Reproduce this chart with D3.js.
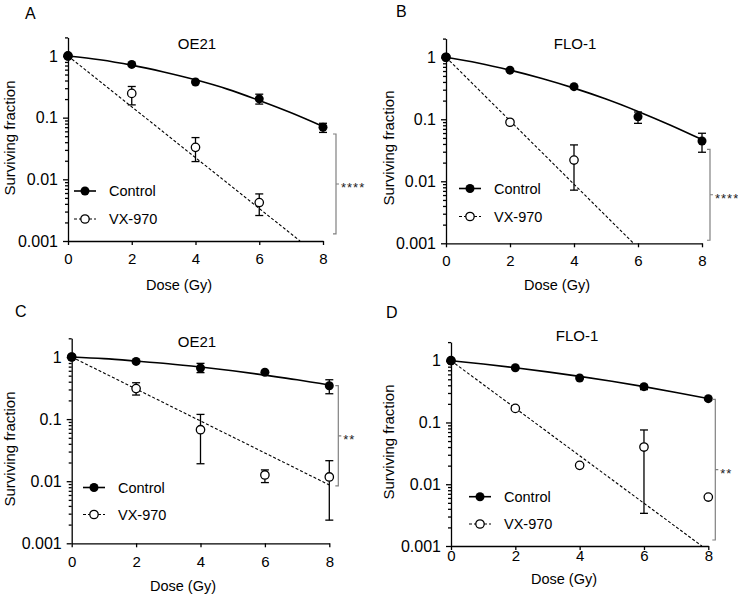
<!DOCTYPE html>
<html><head><meta charset="utf-8">
<script src="https://cdn.jsdelivr.net/npm/d3@7"></script>
<style>body{margin:0;background:#fff}svg{display:block}text{font-family:"Liberation Sans",Arial,sans-serif}</style>
</head><body><svg id="c" width="738" height="595"></svg>
<script>
// ---------- data ----------
const doses = [0, 2, 4, 6, 8];
const fitDoses = [0, 1, 2, 3, 4, 5, 6, 7, 8];
const xTickValues = [0, 2, 4, 6, 8];
const yTickValues = [0.001, 0.01, 0.1, 1];
const yTickLabels = ["0.001", "0.01", "0.1", "1"];
const legendLabels = ["Control", "VX-970"];
const panelLetters = ["A", "B", "C", "D"];
const cellLines = ["OE21", "FLO-1", "OE21", "FLO-1"];
const sigLabels = ["****", "****", "**", "**"];
const xLabel = "Dose (Gy)";
const yLabel = "Surviving fraction";

// Panel A (OE21)
const ctrlA   = [1, 0.73, 0.378, 0.202, 0.070];
const ctrlALo = [1, 0.73, 0.378, 0.166, 0.0576];
const ctrlAHi = [1, 0.73, 0.378, 0.24, 0.081];
const vxDosesA = [0, 2, 4, 6];
const vxA   = [1, 0.247, 0.033, 0.0042];
const vxALo = [1, 0.161, 0.0194, 0.00259];
const vxAHi = [1, 0.32, 0.0475, 0.0058];
const ctrlFitA = [1, 0.87, 0.71, 0.55, 0.41, 0.29, 0.19, 0.12, 0.072];
const vxFitDosesA = [0, 7.28];
const vxFitA = [1, 0.001];
const sigA = [0.0543, 0.0013];

// Panel B (FLO-1)
const ctrlB   = [1, 0.62, 0.336, 0.110, 0.0447];
const ctrlBLo = [1, 0.62, 0.336, 0.086, 0.0294];
const ctrlBHi = [1, 0.62, 0.336, 0.131, 0.0595];
const vxDosesB = [0, 2, 4];
const vxB   = [1, 0.0895, 0.022];
const vxBLo = [1, 0.0895, 0.0072];
const vxBHi = [1, 0.0895, 0.0386];
const ctrlFitB = [1, 0.81, 0.62, 0.455, 0.318, 0.212, 0.134, 0.081, 0.047];
const vxFitDosesB = [0, 5.86];
const vxFitB = [1, 0.001];
const sigB = [0.0328, 0.00112];

// Panel C (OE21)
const ctrlC   = [1, 0.85, 0.665, 0.567, 0.345];
const ctrlCLo = [1, 0.85, 0.56, 0.567, 0.256];
const ctrlCHi = [1, 0.85, 0.79, 0.567, 0.43];
const vxDosesC = [0, 2, 4, 6, 8];
const vxC   = [1, 0.31, 0.0675, 0.0126, 0.0117];
const vxCLo = [1, 0.244, 0.0191, 0.0095, 0.00236];
const vxCHi = [1, 0.385, 0.119, 0.0152, 0.0214];
const ctrlFitC = [1, 0.94, 0.86, 0.78, 0.69, 0.60, 0.51, 0.43, 0.354];
const vxFitDosesC = [0, 8];
const vxFitC = [1, 0.0087];
const sigC = [0.345, 0.0084];

// Panel D (FLO-1)
const ctrlD   = [1, 0.77, 0.525, 0.38, 0.243];
const ctrlDLo = [1, 0.77, 0.525, 0.34, 0.243];
const ctrlDHi = [1, 0.77, 0.525, 0.40, 0.243];
const vxDosesD = [0, 2, 4, 6, 8];
const vxD   = [1, 0.169, 0.0202, 0.040, 0.0062];
const vxDLo = [1, 0.169, 0.0202, 0.00338, 0.0062];
const vxDHi = [1, 0.169, 0.0202, 0.0756, 0.0062];
const ctrlFitD = [1, 0.885, 0.77, 0.66, 0.558, 0.464, 0.38, 0.306, 0.243];
const vxFitDosesD = [0, 7.8];
const vxFitD = [1, 0.001];
const sigD = [0.237, 0.00125];

// ---------- layout (pixels) ----------
const layout = [
  {x0: 68,   x1: 323,   yt: 37.4,  yb: 241,   letter: [25, 18.5],  title: [197, 48.5],  xlab: [179, 290], ylab: [9, 138],   tickPad: 8, leg: [85, 191, 219],  sigDx: 13},
  {x0: 446,  x1: 702,   yt: 38.6,  yb: 243.3, letter: [396, 16.5], title: [575, 48.5],  xlab: [557, 290], ylab: [388, 148], tickPad: 8, leg: [470, 188.5, 216.5], sigDx: 8},
  {x0: 71.7, x1: 329.3, yt: 338.3, yb: 543.3, letter: [15, 316.7], title: [197, 347],   xlab: [183, 591], ylab: [9, 449],   tickPad: 9, leg: [94, 487.5, 514.5], sigDx: 9},
  {x0: 451,  x1: 708.3, yt: 342.1, yb: 546,   letter: [386, 317.7], title: [577, 340.5], xlab: [564, 583.5], ylab: [388, 442], tickPad: 0, leg: [480, 496.7, 524],  sigDx: 7}
];

const panels = [
  {ctrl: ctrlA, lo: ctrlALo, hi: ctrlAHi, vd: vxDosesA, vx: vxA, vlo: vxALo, vhi: vxAHi, fit: ctrlFitA, vfd: vxFitDosesA, vfit: vxFitA, sig: sigA},
  {ctrl: ctrlB, lo: ctrlBLo, hi: ctrlBHi, vd: vxDosesB, vx: vxB, vlo: vxBLo, vhi: vxBHi, fit: ctrlFitB, vfd: vxFitDosesB, vfit: vxFitB, sig: sigB},
  {ctrl: ctrlC, lo: ctrlCLo, hi: ctrlCHi, vd: vxDosesC, vx: vxC, vlo: vxCLo, vhi: vxCHi, fit: ctrlFitC, vfd: vxFitDosesC, vfit: vxFitC, sig: sigC},
  {ctrl: ctrlD, lo: ctrlDLo, hi: ctrlDHi, vd: vxDosesD, vx: vxD, vlo: vxDLo, vhi: vxDHi, fit: ctrlFitD, vfd: vxFitDosesD, vfit: vxFitD, sig: sigD}
];

const svg = d3.select("#c");
const R = 4.2, CAP = 4;
const FONT = '"Liberation Sans",Arial,sans-serif';

panels.forEach((P, i) => {
  const L = layout[i];
  const x = d3.scaleLinear().domain([0, 8]).range([L.x0, L.x1]);
  const y = d3.scaleLog().domain([0.001, 2]).range([L.yb, L.yt]);
  const g = svg.append("g");

  const clipId = "clip" + i;
  svg.append("clipPath").attr("id", clipId).append("rect")
    .attr("x", L.x0).attr("y", L.yt).attr("width", L.x1 - L.x0 + 10).attr("height", L.yb - L.yt);

  // axes
  const minor = y.ticks().filter(v => !yTickValues.some(t => Math.abs(t - v) / t < 1e-6));
  const gyMinor = g.append("g").attr("transform", `translate(${L.x0},0)`)
    .call(d3.axisLeft(y).tickValues(minor).tickSize(3).tickSizeOuter(0).tickFormat(""));
  gyMinor.select(".domain").remove();
  const gy = g.append("g").attr("transform", `translate(${L.x0},0)`)
    .call(d3.axisLeft(y).tickValues(yTickValues).tickSize(5).tickSizeOuter(0).tickPadding(5)
      .tickFormat((d, k) => yTickLabels[k]));
  const gx = g.append("g").attr("transform", `translate(0,${L.yb})`)
    .call(d3.axisBottom(x).tickValues(xTickValues).tickSize(4).tickSizeOuter(0).tickPadding(L.tickPad));
  [gy, gx, gyMinor].forEach(a => {
    a.selectAll("path,line").attr("stroke", "#000").attr("stroke-width", 1.3);
    a.selectAll("text").attr("font-size", 15).attr("fill", "#000").attr("font-family", FONT);
  });
  gy.selectAll("text").attr("font-size", 16);

  // labels
  g.append("text").attr("x", L.letter[0]).attr("y", L.letter[1]).attr("font-size", 16).text(panelLetters[i]);
  g.append("text").attr("x", L.title[0]).attr("y", L.title[1]).attr("font-size", 15)
    .attr("text-anchor", "middle").text(cellLines[i]);
  g.append("text").attr("x", L.xlab[0]).attr("y", L.xlab[1]).attr("font-size", 14.5)
    .attr("text-anchor", "middle").text(xLabel);
  g.append("text").attr("transform", `translate(${L.ylab[0]},${L.ylab[1]}) rotate(-90)`)
    .attr("font-size", 15).attr("text-anchor", "middle").attr("dominant-baseline", "central").text(yLabel);

  // fit lines
  const line = d3.line().x(d => x(d[0])).y(d => y(d[1]));
  const lineCurve = d3.line().x(d => x(d[0])).y(d => y(d[1])).curve(d3.curveMonotoneX);
  g.append("path").attr("clip-path", `url(#${clipId})`)
    .attr("d", line(P.vfd.map((d, k) => [d, P.vfit[k]])))
    .attr("fill", "none").attr("stroke", "#000").attr("stroke-width", 1.1).attr("stroke-dasharray", "3,2");
  g.append("path").attr("clip-path", `url(#${clipId})`)
    .attr("d", lineCurve(fitDoses.map((d, k) => [d, P.fit[k]])))
    .attr("fill", "none").attr("stroke", "#000").attr("stroke-width", 1.6);

  // error bars
  function errBars(ds, lo, hi) {
    ds.forEach((d, k) => {
      if (hi[k] === lo[k]) return;
      const cx = x(d);
      g.append("line").attr("x1", cx).attr("x2", cx).attr("y1", y(lo[k])).attr("y2", y(hi[k]))
        .attr("stroke", "#000").attr("stroke-width", 1.3);
      [lo[k], hi[k]].forEach(v => g.append("line").attr("x1", cx - CAP).attr("x2", cx + CAP)
        .attr("y1", y(v)).attr("y2", y(v)).attr("stroke", "#000").attr("stroke-width", 1.3));
    });
  }
  errBars(P.vd, P.vlo, P.vhi);
  errBars(doses, P.lo, P.hi);

  // points
  g.selectAll(".vx").data(P.vd.map((d, k) => [d, P.vx[k]])).enter().append("circle")
    .attr("cx", d => x(d[0])).attr("cy", d => y(d[1])).attr("r", R)
    .attr("fill", "#fff").attr("stroke", "#000").attr("stroke-width", 1.3);
  g.selectAll(".ct").data(doses.map((d, k) => [d, P.ctrl[k]])).enter().append("circle")
    .attr("cx", d => x(d[0])).attr("cy", d => y(d[1])).attr("r", R + 0.3).attr("fill", "#000");

  // legend
  const [lx, ly1, ly2] = L.leg;
  g.append("line").attr("x1", lx - 11).attr("x2", lx + 11).attr("y1", ly1).attr("y2", ly1)
    .attr("stroke", "#000").attr("stroke-width", 1.6);
  g.append("circle").attr("cx", lx).attr("cy", ly1).attr("r", R + 0.3).attr("fill", "#000");
  g.append("line").attr("x1", lx - 11).attr("x2", lx + 11).attr("y1", ly2).attr("y2", ly2)
    .attr("stroke", "#000").attr("stroke-width", 1.1).attr("stroke-dasharray", "3,2");
  g.append("circle").attr("cx", lx).attr("cy", ly2).attr("r", R)
    .attr("fill", "#fff").attr("stroke", "#000").attr("stroke-width", 1.3);
  [ly1, ly2].forEach((yy, k) => g.append("text").attr("x", lx + 24).attr("y", yy + 5)
    .attr("font-size", 14.5).text(legendLabels[k]));

  // significance bracket
  const bx = x(8) + L.sigDx, bt = y(P.sig[0]), bb = y(P.sig[1]), bm = (bt + bb) / 2;
  g.append("path").attr("d", `M${bx - 3},${bt}H${bx}V${bb}H${bx - 3}M${bx},${bm}H${bx + 3}`)
    .attr("fill", "none").attr("stroke", "#808080").attr("stroke-width", 1.2);
  g.append("text").attr("x", bx + 5).attr("y", bm + 8).attr("font-size", 13).attr("fill", "#222")
    .attr("letter-spacing", 1).text(sigLabels[i]);
});
</script></body></html>
